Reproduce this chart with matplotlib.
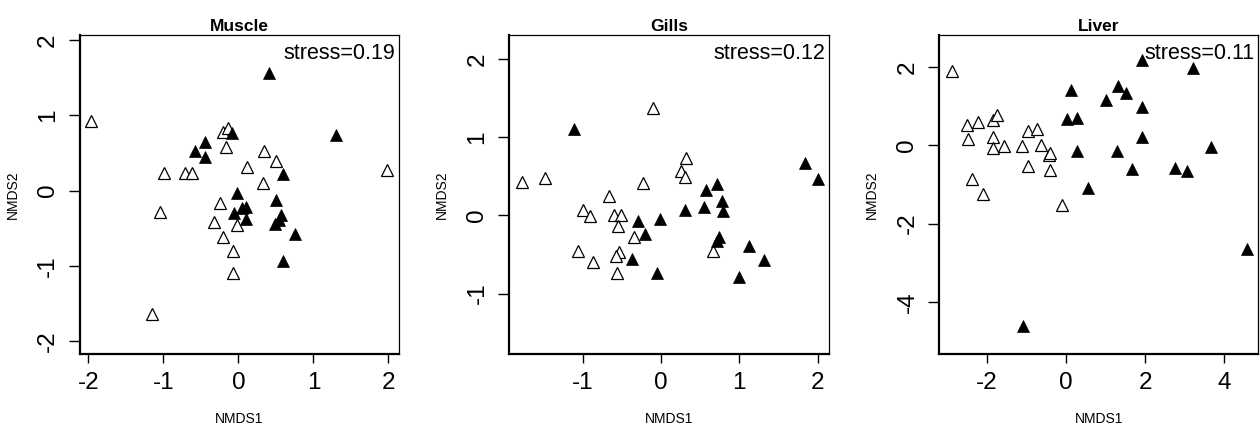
import matplotlib
matplotlib.use("Agg")
import matplotlib.pyplot as plt

plt.rcParams['font.family'] = ['Liberation Sans', 'DejaVu Sans']

# ---------------- data ----------------
titles = ["Muscle", "Gills", "Liver"]
stress_labels = ["stress=0.19", "stress=0.12", "stress=0.11"]

muscle_open_x = [-1.96, 1.98, -0.21, -0.14, -0.17, -0.99, -0.71, -0.62, 0.11, 0.34,
                 0.50, 0.33, -0.24, -1.05, -0.33, -0.02, -0.20, -0.07, -0.07, -1.15]
muscle_open_y = [0.92, 0.275, 0.785, 0.83, 0.58, 0.24, 0.23, 0.24, 0.31, 0.53,
                 0.40, 0.10, -0.17, -0.28, -0.42, -0.46, -0.62, -0.80, -1.10, -1.64]
muscle_fill_x = [0.41, 1.30, -0.08, -0.45, -0.58, -0.44, 0.60, -0.02, 0.50, -0.06,
                 0.05, 0.10, 0.10, 0.57, 0.54, 0.49, 0.75, 0.60]
muscle_fill_y = [1.57, 0.74, 0.76, 0.64, 0.53, 0.45, 0.22, -0.035, -0.12, -0.30,
                 -0.23, -0.22, -0.38, -0.32, -0.39, -0.44, -0.58, -0.94]

gills_open_x = [-0.10, -1.78, -1.48, -0.23, 0.32, 0.26, 0.30, -0.66, -1.00, -0.91,
                -0.60, -0.51, -0.55, -0.35, 0.66, -1.06, -0.87, -0.54, -0.57, -0.56]
gills_open_y = [1.37, 0.43, 0.475, 0.42, 0.73, 0.57, 0.49, 0.25, 0.07, -0.01,
                0.0, 0.0, -0.14, -0.28, -0.45, -0.45, -0.59, -0.47, -0.52, -0.74]
gills_fill_x = [-1.11, 1.84, 2.00, 0.72, 0.575, -0.30, -0.02, 0.30, 0.55, 0.78,
                0.79, -0.20, 0.745, 0.72, -0.37, -0.055, 1.125, 1.32, 0.99]
gills_fill_y = [1.11, 0.67, 0.47, 0.40, 0.33, -0.07, -0.04, 0.07, 0.11, 0.18,
                0.06, -0.24, -0.28, -0.33, -0.56, -0.74, -0.385, -0.57, -0.79]

liver_open_x = [-2.90, -2.52, -2.23, -1.86, -1.75, -2.48, -1.86, -1.86, -1.57, -1.13,
                -0.98, -0.75, -0.63, -0.44, -0.40, -0.96, -0.40, -2.38, -2.10, -0.11]
liver_open_y = [1.88, 0.52, 0.59, 0.63, 0.77, 0.15, 0.20, -0.08, -0.01, -0.02,
                0.35, 0.41, 0.01, -0.25, -0.20, -0.53, -0.63, -0.86, -1.24, -1.52]
liver_fill_x = [1.91, 3.20, 0.13, 1.31, 1.50, 1.00, 1.91, 0.03, 0.26, 1.91,
                0.26, 1.29, 3.67, 1.65, 2.76, 3.05, 0.55, 4.57, -1.09]
liver_fill_y = [2.16, 1.96, 1.41, 1.50, 1.33, 1.16, 0.985, 0.66, 0.69, 0.22,
                -0.14, -0.14, -0.05, -0.61, -0.59, -0.65, -1.10, -2.65, -4.61]

xticks = [[-2, -1, 0, 1, 2], [-1, 0, 1, 2], [-2, 0, 2, 4]]
yticks = [[-2, -1, 0, 1, 2], [-1, 0, 1, 2], [-4, -2, 0, 2]]
xlims = [(-2.11, 2.14), (-1.94, 2.15), (-3.21, 4.86)]
ylims = [(-2.17, 2.07), (-1.77, 2.31), (-5.32, 2.81)]

open_x = [muscle_open_x, gills_open_x, liver_open_x]
open_y = [muscle_open_y, gills_open_y, liver_open_y]
fill_x = [muscle_fill_x, gills_fill_x, liver_fill_x]
fill_y = [muscle_fill_y, gills_fill_y, liver_fill_y]

# ---------------- figure ----------------
W, H = 1260, 430
fig = plt.figure(figsize=(W / 100, H / 100), dpi=100)

lefts = [80, 509.3, 939.3]
widths = [319, 320, 319.2]
top_px, bot_px = 35, 353.7

for i in range(3):
    ax = fig.add_axes([lefts[i] / W, (H - bot_px) / H, widths[i] / W, (bot_px - top_px) / H])
    ax.plot(open_x[i], open_y[i], linestyle='none', marker='^', markersize=8.5,
            markerfacecolor='white', markeredgecolor='black', markeredgewidth=0.9)
    ax.plot(fill_x[i], fill_y[i], linestyle='none', marker='^', markersize=8.5,
            markerfacecolor='black', markeredgecolor='black', markeredgewidth=0.5)
    ax.set_xlim(*xlims[i])
    ax.set_ylim(*ylims[i])
    ax.set_xticks(xticks[i])
    ax.set_yticks(yticks[i])
    ax.set_xticklabels([str(v) for v in xticks[i]])
    ax.set_yticklabels([str(v) for v in yticks[i]], rotation=90, va='center')
    ax.tick_params(axis='x', length=6.5, width=1.0, pad=7, labelsize=17.5)
    ax.tick_params(axis='y', length=8, width=1.0, pad=7, labelsize=17.5)
    for side in ['top', 'right']:
        ax.spines[side].set_linewidth(0.9)
    for side in ['left', 'bottom']:
        ax.spines[side].set_linewidth(1.6)
    ax.set_title(titles[i], fontsize=12.5, fontweight='bold', pad=3)
    ax.text(0.988, 0.975, stress_labels[i], transform=ax.transAxes,
            ha='right', va='top', fontsize=15.5)
    ax.set_xlabel("NMDS1", fontsize=10)
    ax.set_ylabel("NMDS2", fontsize=10)
    ax.xaxis.label.set_va('center')
    ax.yaxis.label.set_va('center')
    ax.xaxis.set_label_coords(0.5, -0.205)
    ax.yaxis.set_label_coords(-0.21, 0.5)

fig.savefig("out.png", dpi=100)
